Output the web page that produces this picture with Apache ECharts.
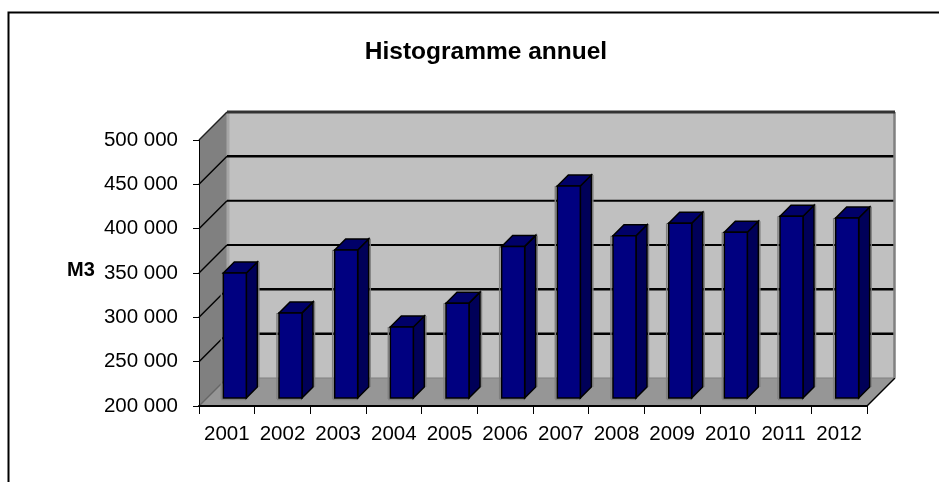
<!DOCTYPE html>
<html><head><meta charset="utf-8">
<style>html,body{margin:0;padding:0;background:#fff}#c{width:939px;height:482px}</style>
<script src="https://cdn.jsdelivr.net/npm/echarts@6/dist/echarts.min.js"></script>
</head><body><div id="c"></div>
<script>
const categories=['2001','2002','2003','2004','2005','2006','2007','2008','2009','2010','2011','2012'];
const volumes=[341000,296000,367000,280000,307000,371000,439000,383000,397000,387000,405000,403000];
const gridValues=[250000,300000,350000,400000,450000];
const gridWidths=[2.5,2.5,2,2,2.5];
const DEPTH=28, BAR_OFF=8, BAR_D=11, BAR_W=23;
const fmt=v=>String(v).replace(/\B(?=(\d{3})+$)/g,' ');
function poly(points,fill,stroke,lw){return {type:'polygon',shape:{points},style:{fill,stroke:stroke||null,lineWidth:lw||0}};}
function line(p,q,stroke,lw){return {type:'line',shape:{x1:p[0],y1:p[1],x2:q[0],y2:q[1]},style:{stroke,lineWidth:lw}};}
const chart=echarts.init(document.getElementById('c'),null,{renderer:'canvas'});
chart.setOption({
  animation:false,backgroundColor:'#fff',
  textStyle:{fontFamily:'Liberation Sans'},
  title:{text:'Histogramme annuel',left:481,top:35,textAlign:'center',
    textStyle:{fontFamily:'Liberation Sans',fontSize:24.5,fontWeight:'bold',color:'#000'}},
  graphic:[
    {type:'polyline',silent:true,z:0,shape:{points:[[8.5,482],[8.5,12.5],[939,12.5]]},style:{stroke:'#000',lineWidth:2,fill:null}},
    {type:'text',left:67,top:260,style:{text:'M3',fontFamily:'Liberation Sans',fontSize:20,fontWeight:'bold',fill:'#000'}}
  ],
  grid:{left:199,right:72,top:140,bottom:76,containLabel:false},
  xAxis:{type:'category',data:categories,boundaryGap:true,
    axisLine:{show:true,lineStyle:{color:'#000',width:2}},
    axisTick:{show:true,alignWithLabel:false,length:8,lineStyle:{color:'#000',width:1}},
    axisLabel:{color:'#000',fontSize:20.5,margin:18,interval:0},z:5},
  yAxis:{type:'value',min:200000,max:500000,interval:50000,
    splitLine:{show:false},
    axisLine:{show:true,lineStyle:{color:'#000',width:1}},
    axisTick:{show:true,length:6,lineStyle:{color:'#000',width:1}},
    axisLabel:{color:'#000',fontSize:20.5,margin:21,padding:[4,0,0,0],formatter:fmt},z:5},
  series:[
    {type:'custom',silent:true,z:1,data:[[0]],renderItem(p,api){
      const c=p.coordSys,x0=c.x,x1=c.x+c.width,yB=c.y+c.height,yT=c.y,d=DEPTH;
      const kids=[
        poly([[x0+d,yT-d],[x1+d,yT-d],[x1+d,yB-d],[x0+d,yB-d]],'#C0C0C0'),
        poly([[x0,yB],[x0+d,yB-d],[x0+d,yT-d],[x0,yT]],'#808080'),
        poly([[x0,yB],[x1,yB],[x1+d,yB-d],[x0+d,yB-d]],'#969696'),
        line([x0+d,yB-d],[x1+d,yB-d],'#808080',1),
        line([x0+d+1,yT-d],[x0+d+1,yB-d],'#A6A6A6',3),
        line([x1,yB],[x1+d,yB-d],'#000',1.5),
        line([x0,yB],[x0+d,yB-d],'#666',1.5)
      ];
      gridValues.forEach((v,i)=>{
        const y=api.coord([0,v])[1];
        kids.push(line([x0,y],[x0+d,y-d],'#000',1.5));
        kids.push(line([x0+d,y-d],[x1+d,y-d],'#000',gridWidths[i]));
      });
      kids.push(line([x0,yT],[x0+d,yT-d],'#222',1.5));
      kids.push(line([x1+d-0.5,yT-d],[x1+d-0.5,yB-d],'#808080',2.5));
      kids.push(line([x0+d,yT-d],[x1+d,yT-d],'#333',3));
      return {type:'group',children:kids};
    }},
    {type:'custom',z:3,silent:true,data:volumes.map((v,i)=>[i,v]),encode:{x:0,y:1},renderItem(p,api){
      const t=api.coord([api.value(0),api.value(1)]),b=api.coord([api.value(0),200000]);
      const l=t[0]+BAR_OFF-BAR_W/2,r=l+BAR_W,top=t[1]-BAR_OFF,bot=b[1]-BAR_OFF,d=BAR_D;
      const st='#000',w=1.5;
      return {type:'group',children:[
        line([l-2,top],[l-2,bot+1],'#808080',1.5),
        line([r+d+1.5,top-d],[r+d+1.5,bot-d],'#808080',1.5),
        line([l-2,bot+1.5],[r,bot+1.5],'#808080',1.5),
        poly([[r,bot],[r+d,bot-d],[r+d,top-d],[r,top]],'#000058',st,w),
        poly([[l,top],[r,top],[r+d,top-d],[l+d,top-d]],'#000068',st,w),
        poly([[l,top],[r,top],[r,bot],[l,bot]],'#000080',st,w)
      ]};
    }}
  ]
});
</script></body></html>
